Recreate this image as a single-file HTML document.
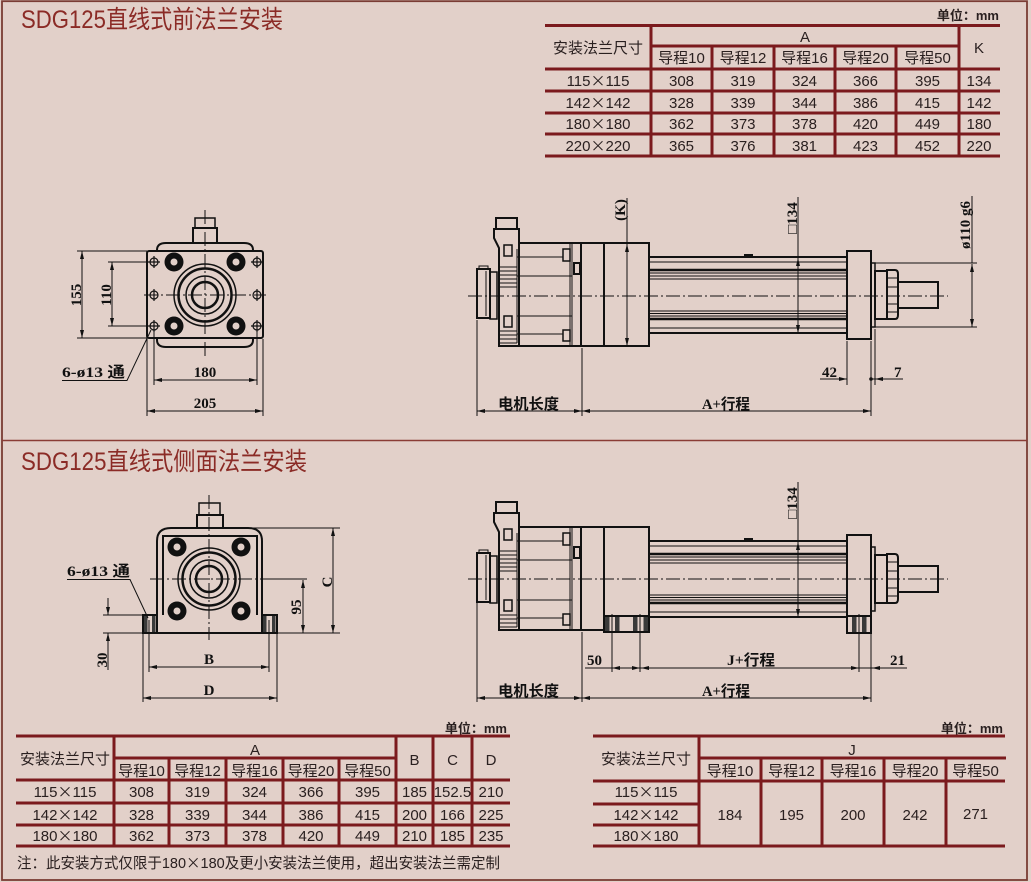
<!DOCTYPE html>
<html><head><meta charset="utf-8">
<style>
html,body{margin:0;padding:0;background:#e2d0c9;}
svg{display:block;}
.t{font-family:"Liberation Sans","Noto Sans CJK SC",sans-serif;fill:#2a2020;font-size:15px;text-anchor:middle;}
.x{font-family:"Noto Sans CJK SC",sans-serif;}
.u{font-family:"Liberation Sans","Noto Sans CJK SC",sans-serif;fill:#2a2020;font-size:13px;font-weight:bold;text-anchor:end;}
.d{font-family:"Liberation Serif","Noto Sans CJK SC",serif;font-weight:bold;fill:#111;font-size:15px;}
.ttl{font-family:"Liberation Sans","Noto Sans CJK SC",sans-serif;fill:#8b2b26;font-size:25px;}
</style></head><body>
<svg width="1031" height="882" viewBox="0 0 1031 882" xmlns="http://www.w3.org/2000/svg">
<defs>
<marker id="a" viewBox="0 0 8 4" refX="8" refY="2" markerWidth="8" markerHeight="4" markerUnits="userSpaceOnUse" orient="auto-start-reverse"><path d="M0,0 L8,2 L0,4 z" fill="#111"/></marker>
</defs>
<rect width="1031" height="882" fill="#e2d0c9"/>
<rect x="2" y="1.2" width="1025" height="878.8" fill="none" stroke="#7a3c34" stroke-width="1.8"/>
<line x1="2" y1="440.5" x2="1027" y2="440.5" stroke="#8a3c35" stroke-width="1.5"/>

<text class="ttl" x="21" y="28" textLength="262" lengthAdjust="spacingAndGlyphs">SDG125直线式前法兰安装</text>
<text class="ttl" x="21" y="470" textLength="286" lengthAdjust="spacingAndGlyphs">SDG125直线式侧面法兰安装</text>

<!-- ===== TOP TABLE ===== -->
<g stroke="#7b1a1d" stroke-width="3">
<line x1="545" y1="25.5" x2="1000" y2="25.5"/>
<line x1="651" y1="46" x2="959" y2="46"/>
<line x1="545" y1="69" x2="1000" y2="69"/>
<line x1="545" y1="91" x2="1000" y2="91"/>
<line x1="545" y1="113" x2="1000" y2="113"/>
<line x1="545" y1="134" x2="1000" y2="134"/>
<line x1="545" y1="156" x2="1000" y2="156"/>
<line x1="651" y1="25" x2="651" y2="156"/>
<line x1="712" y1="46" x2="712" y2="156"/>
<line x1="774" y1="46" x2="774" y2="156"/>
<line x1="835" y1="46" x2="835" y2="156"/>
<line x1="896" y1="46" x2="896" y2="156"/>
<line x1="959" y1="25" x2="959" y2="156"/>
</g>
<text class="u" x="999" y="20">单位：mm</text>
<text class="t" x="598" y="53">安装法兰尺寸</text>
<text class="t" x="805" y="42" font-size="13">A</text>
<text class="t" x="979" y="53" font-size="14">K</text>
<g class="t">
<text x="681.5" y="63">导程10</text><text x="743" y="63">导程12</text><text x="804.5" y="63">导程16</text><text x="865.5" y="63">导程20</text><text x="927.5" y="63">导程50</text>
<text x="598" y="86">115<tspan class="x">×</tspan>115</text><text x="681.5" y="86">308</text><text x="743" y="86">319</text><text x="804.5" y="86">324</text><text x="865.5" y="86">366</text><text x="927.5" y="86">395</text><text x="979" y="86">134</text>
<text x="598" y="108">142<tspan class="x">×</tspan>142</text><text x="681.5" y="108">328</text><text x="743" y="108">339</text><text x="804.5" y="108">344</text><text x="865.5" y="108">386</text><text x="927.5" y="108">415</text><text x="979" y="108">142</text>
<text x="598" y="129">180<tspan class="x">×</tspan>180</text><text x="681.5" y="129">362</text><text x="743" y="129">373</text><text x="804.5" y="129">378</text><text x="865.5" y="129">420</text><text x="927.5" y="129">449</text><text x="979" y="129">180</text>
<text x="598" y="151">220<tspan class="x">×</tspan>220</text><text x="681.5" y="151">365</text><text x="743" y="151">376</text><text x="804.5" y="151">381</text><text x="865.5" y="151">423</text><text x="927.5" y="151">452</text><text x="979" y="151">220</text>
</g>

<!-- ===== BOTTOM LEFT TABLE ===== -->
<g stroke="#7b1a1d" stroke-width="3">
<line x1="16" y1="736" x2="510" y2="736"/>
<line x1="114" y1="758" x2="396" y2="758"/>
<line x1="16" y1="780" x2="510" y2="780"/>
<line x1="16" y1="803" x2="510" y2="803"/>
<line x1="16" y1="825" x2="510" y2="825"/>
<line x1="16" y1="846" x2="510" y2="846"/>
<line x1="114" y1="736" x2="114" y2="846"/>
<line x1="169" y1="758" x2="169" y2="846"/>
<line x1="226" y1="758" x2="226" y2="846"/>
<line x1="283" y1="758" x2="283" y2="846"/>
<line x1="339" y1="758" x2="339" y2="846"/>
<line x1="396" y1="736" x2="396" y2="846"/>
<line x1="433" y1="736" x2="433" y2="846"/>
<line x1="472" y1="736" x2="472" y2="846"/>
</g>
<text class="u" x="507" y="733">单位：mm</text>
<text class="t" x="65" y="764">安装法兰尺寸</text>
<text class="t" x="255" y="755" font-size="13">A</text>
<g class="t" font-size="14"><text x="414.5" y="765">B</text><text x="452.5" y="765">C</text><text x="491" y="765">D</text></g>
<g class="t">
<text x="141.5" y="776">导程10</text><text x="197.5" y="776">导程12</text><text x="254.5" y="776">导程16</text><text x="311" y="776">导程20</text><text x="367.5" y="776">导程50</text>
<text x="65" y="797">115<tspan class="x">×</tspan>115</text><text x="141.5" y="797">308</text><text x="197.5" y="797">319</text><text x="254.5" y="797">324</text><text x="311" y="797">366</text><text x="367.5" y="797">395</text><text x="414.5" y="797">185</text><text x="452.5" y="797">152.5</text><text x="491" y="797">210</text>
<text x="65" y="820">142<tspan class="x">×</tspan>142</text><text x="141.5" y="820">328</text><text x="197.5" y="820">339</text><text x="254.5" y="820">344</text><text x="311" y="820">386</text><text x="367.5" y="820">415</text><text x="414.5" y="820">200</text><text x="452.5" y="820">166</text><text x="491" y="820">225</text>
<text x="65" y="841">180<tspan class="x">×</tspan>180</text><text x="141.5" y="841">362</text><text x="197.5" y="841">373</text><text x="254.5" y="841">378</text><text x="311" y="841">420</text><text x="367.5" y="841">449</text><text x="414.5" y="841">210</text><text x="452.5" y="841">185</text><text x="491" y="841">235</text>
</g>
<text class="t" x="17" y="868" style="text-anchor:start" textLength="483" lengthAdjust="spacingAndGlyphs">注：此安装方式仅限于180<tspan class="x">×</tspan>180及更小安装法兰使用，超出安装法兰需定制</text>

<!-- ===== BOTTOM RIGHT TABLE ===== -->
<g stroke="#7b1a1d" stroke-width="3">
<line x1="593" y1="736" x2="1005" y2="736"/>
<line x1="699" y1="758" x2="1006" y2="758"/>
<line x1="593" y1="781" x2="1005" y2="781"/>
<line x1="593" y1="804" x2="699" y2="804"/>
<line x1="593" y1="825" x2="699" y2="825"/>
<line x1="593" y1="846" x2="1005" y2="846"/>
<line x1="699" y1="736" x2="699" y2="846"/>
<line x1="761" y1="758" x2="761" y2="846"/>
<line x1="822" y1="758" x2="822" y2="846"/>
<line x1="884" y1="758" x2="884" y2="846"/>
<line x1="946" y1="758" x2="946" y2="846"/>
</g>
<text class="u" x="1003" y="733">单位：mm</text>
<text class="t" x="646" y="764">安装法兰尺寸</text>
<text class="t" x="852" y="755" font-size="13">J</text>
<g class="t">
<text x="730" y="776">导程10</text><text x="791.5" y="776">导程12</text><text x="853" y="776">导程16</text><text x="915" y="776">导程20</text><text x="975.5" y="776">导程50</text>
<text x="646" y="797">115<tspan class="x">×</tspan>115</text><text x="646" y="820">142<tspan class="x">×</tspan>142</text><text x="646" y="841">180<tspan class="x">×</tspan>180</text>
<text x="730" y="820">184</text><text x="791.5" y="820">195</text><text x="853" y="820">200</text><text x="915" y="820">242</text><text x="975.5" y="819">271</text>
</g>

<!-- ===== DRAWING 1: front flange end view ===== -->
<g fill="none" stroke="#111" stroke-width="1">
<line x1="205" y1="210" x2="205" y2="356" stroke-dasharray="14,3,2,3"/>
<line x1="144" y1="295" x2="266" y2="295" stroke-dasharray="14,3,2,3"/>
<path d="M157,251 V250 Q157,243 166,243 H244 Q253,243 253,250 V251" stroke-width="2"/>
<path d="M157,338 V340 Q157,347 166,347 H244 Q253,347 253,340 V338" stroke-width="2"/>
<rect x="147" y="251" width="116" height="87" rx="2" stroke-width="2"/>
<rect x="193" y="228" width="24" height="15" stroke-width="2"/>
<rect x="195" y="218" width="20" height="10" stroke-width="1.5"/>
<circle cx="205" cy="295" r="31" stroke-width="1.5"/>
<circle cx="205" cy="295" r="26.5" stroke-width="2.5"/>
<circle cx="205" cy="295" r="19" stroke-width="1.5"/>
<circle cx="205" cy="295" r="13" stroke-width="2.5"/>
<g fill="#111" stroke="none">
<circle cx="174" cy="262" r="9.5"/><circle cx="236" cy="262" r="9.5"/><circle cx="174" cy="326" r="9.5"/><circle cx="236" cy="326" r="9.5"/>
</g>
<g fill="#e2d0c9" stroke="#111" stroke-width="1">
<circle cx="174" cy="262" r="4"/><circle cx="236" cy="262" r="4"/><circle cx="174" cy="326" r="4"/><circle cx="236" cy="326" r="4"/>
</g>
<g stroke-width="1.2">
<circle cx="154" cy="262" r="4"/><circle cx="154" cy="295" r="4"/><circle cx="154" cy="326" r="4"/>
<circle cx="257" cy="262" r="4"/><circle cx="257" cy="295" r="4"/><circle cx="257" cy="326" r="4"/>
<path d="M148,262 h12 M154,256 v12 M148,326 h12 M154,320 v12 M154,289 v12 M251,262 h12 M257,256 v12 M251,326 h12 M257,320 v12 M257,289 v12"/>
</g>
<path d="M77,251 H147 M77,338 H147 M108,262 H150 M108,326 H150"/>
<line x1="82" y1="251" x2="82" y2="338" marker-start="url(#a)" marker-end="url(#a)"/>
<line x1="112" y1="262" x2="112" y2="326" marker-start="url(#a)" marker-end="url(#a)"/>
<path d="M154,331 V385 M257,331 V385 M147,339 V416 M263,339 V416"/>
<line x1="154" y1="380" x2="257" y2="380" marker-start="url(#a)" marker-end="url(#a)"/>
<line x1="147" y1="411" x2="263" y2="411" marker-start="url(#a)" marker-end="url(#a)"/>
<path d="M62,380.5 H127 L151,330"/>
</g>
<text class="d" transform="translate(81,295) rotate(-90)" text-anchor="middle">155</text>
<text class="d" transform="translate(111,295) rotate(-90)" text-anchor="middle">110</text>
<text class="d" x="205" y="377" text-anchor="middle">180</text>
<text class="d" x="205" y="408" text-anchor="middle">205</text>
<text class="d" x="62" y="377" textLength="63" lengthAdjust="spacingAndGlyphs">6-ø13 通</text>

<!-- ===== DRAWING 2: side view (reused for drawing 4) ===== -->
<g id="sv" fill="none" stroke="#111" stroke-width="1">
<rect x="477" y="269" width="13" height="49" stroke-width="2"/>
<rect x="479" y="266" width="9" height="3"/>
<line x1="486" y1="271" x2="486" y2="316"/>
<rect x="490" y="272" width="7" height="47" stroke-width="1.5"/>
<path d="M494,229 H519 V346 H499 V248 L494,238 Z" stroke-width="2"/>
<rect x="496" y="218" width="21" height="11" stroke-width="2"/>
<path d="M499,267 H517 M499,271 H517 M499,275 H517 M499,279 H517 M499,283 H517 M499,287 H517 M499,331 H517 M499,335 H517 M499,339 H517 M499,343 H517"/>
<rect x="519" y="243" width="130" height="103" stroke-width="2"/>
<line x1="570" y1="243" x2="570" y2="346"/>
<line x1="572" y1="243" x2="572" y2="346"/>
<line x1="581" y1="243" x2="581" y2="346" stroke-width="2"/>
<line x1="604" y1="243" x2="604" y2="346" stroke-width="2"/>
<path d="M517,257 H563 M517,276 H572 M517,316 H572 M517,334 H563 M517,249 V343"/>
<rect x="504" y="245" width="8" height="11" stroke-width="1.5"/>
<rect x="504" y="316" width="8" height="11" stroke-width="1.5"/>
<rect x="563" y="249" width="7" height="12" stroke-width="1.5"/>
<rect x="563" y="330" width="7" height="11" stroke-width="1.5"/>
<rect x="574" y="263" width="6" height="11" stroke-width="2"/>
<line x1="649" y1="257" x2="847" y2="257" stroke-width="2"/>
<line x1="649" y1="262" x2="847" y2="262"/>
<line x1="649" y1="270" x2="847" y2="270" stroke-width="2.5"/>
<line x1="649" y1="273" x2="847" y2="273"/>
<line x1="649" y1="276" x2="847" y2="276"/>
<line x1="649" y1="279" x2="847" y2="279"/>
<line x1="649" y1="311" x2="847" y2="311"/>
<line x1="649" y1="313.5" x2="847" y2="313.5"/>
<line x1="649" y1="316" x2="847" y2="316"/>
<line x1="649" y1="319" x2="847" y2="319" stroke-width="2.5"/>
<line x1="649" y1="328" x2="847" y2="328"/>
<line x1="649" y1="333" x2="847" y2="333" stroke-width="2"/>
<rect x="744" y="254" width="9" height="3" fill="#111" stroke="none"/>
<rect x="847" y="251" width="24" height="88" stroke-width="2"/>
<rect x="871" y="263" width="4" height="64" stroke-width="1.5"/>
<rect x="875" y="271" width="12" height="48" stroke-width="2"/>
<path d="M887,270 H895 Q898,270 898,274 V315 Q898,319 895,319 H887 Z" stroke-width="2"/>
<path d="M887,278 H898 M887,287 H898 M887,304 H898 M887,312 H898"/>
<rect x="898" y="282" width="40" height="26" stroke-width="2"/>
</g>
<line x1="468" y1="296" x2="948" y2="296" stroke="#111" stroke-width="1" stroke-dasharray="14,3,2,3"/>
<g fill="none" stroke="#111" stroke-width="1">
<line x1="627" y1="198" x2="627" y2="243"/>
<line x1="627" y1="244" x2="627" y2="346" marker-start="url(#a)" marker-end="url(#a)"/>
<line x1="798" y1="197" x2="798" y2="257"/>
<line x1="798" y1="258" x2="798" y2="333" marker-start="url(#a)" marker-end="url(#a)"/>
<path d="M875,263 H977 M875,327 H977 M972,196 V263"/>
<line x1="972" y1="264" x2="972" y2="327" marker-start="url(#a)" marker-end="url(#a)"/>
<path d="M847,341 V385 M871,341 V416 M875,329 V385"/>
<line x1="820" y1="379" x2="847" y2="379" marker-end="url(#a)"/>
<line x1="871" y1="379" x2="903" y2="379"/>
<line x1="885" y1="379" x2="875" y2="379" marker-end="url(#a)"/>
<circle cx="871" cy="379" r="1.3" fill="#111"/>
<path d="M477,320 V416 M582,348 V416"/>
<line x1="477" y1="411" x2="582" y2="411" marker-start="url(#a)" marker-end="url(#a)"/>
<line x1="582" y1="411" x2="871" y2="411" marker-start="url(#a)" marker-end="url(#a)"/>
</g>
<text class="d" transform="translate(625,210) rotate(-90)" text-anchor="middle">(K)</text>
<text class="d" transform="translate(797,218) rotate(-90)" text-anchor="middle">□134</text>
<text class="d" transform="translate(970,225) rotate(-90)" text-anchor="middle">ø110 g6</text>
<text class="d" x="822" y="377">42</text>
<text class="d" x="894" y="377">7</text>
<text class="d" x="498" y="409" textLength="61" lengthAdjust="spacingAndGlyphs">电机长度</text>
<text class="d" x="702" y="409" textLength="48" lengthAdjust="spacingAndGlyphs">A+行程</text>

<!-- ===== DRAWING 3: side flange end view ===== -->
<g fill="none" stroke="#111" stroke-width="1">
<line x1="209" y1="495" x2="209" y2="640" stroke-dasharray="14,3,2,3"/>
<line x1="150" y1="579" x2="304" y2="579" stroke-dasharray="14,3,2,3"/>
<path d="M157,615 V541 Q157,528 171,528 H248 Q262,528 262,541 V615" stroke-width="2"/>
<path d="M157,615 V607 M163,615 V536 H257 V615" stroke-width="2"/>
<rect x="143" y="615" width="14" height="18" stroke-width="2"/>
<rect x="262" y="615" width="15" height="18" stroke-width="2"/>
<line x1="143" y1="633" x2="277" y2="633" stroke-width="2"/>
<rect x="197" y="515" width="26" height="13" stroke-width="2"/>
<rect x="199" y="503" width="21" height="12" stroke-width="1.5"/>
<circle cx="209" cy="579" r="31" stroke-width="1.5"/>
<circle cx="209" cy="579" r="26.5" stroke-width="2.5"/>
<circle cx="209" cy="579" r="19" stroke-width="1.5"/>
<circle cx="209" cy="579" r="13" stroke-width="2.5"/>
<g fill="#111" stroke="none">
<circle cx="177" cy="547" r="9.5"/><circle cx="241" cy="547" r="9.5"/><circle cx="177" cy="611" r="9.5"/><circle cx="241" cy="611" r="9.5"/>
<rect x="144" y="616" width="3.5" height="16" fill="#3a3a3a"/><rect x="152" y="616" width="3.5" height="16" fill="#3a3a3a"/>
<rect x="263" y="616" width="3.5" height="16" fill="#3a3a3a"/><rect x="272" y="616" width="3.5" height="16" fill="#3a3a3a"/>
</g>
<g fill="#e2d0c9">
<circle cx="177" cy="547" r="4"/><circle cx="241" cy="547" r="4"/><circle cx="177" cy="611" r="4"/><circle cx="241" cy="611" r="4"/>
</g>
<path d="M248,528 H340 M277,633 H340 M262,579 H307"/>
<line x1="333" y1="528" x2="333" y2="633" marker-start="url(#a)" marker-end="url(#a)"/>
<line x1="303" y1="580" x2="303" y2="633" marker-start="url(#a)" marker-end="url(#a)"/>
<path d="M103,615 H143 M103,633 H143"/>
<line x1="108" y1="598" x2="108" y2="615" marker-end="url(#a)"/>
<line x1="108" y1="670" x2="108" y2="633" marker-end="url(#a)"/>
<path d="M149,620 V672 M269,620 V672 M143,634 V702 M277,634 V702"/>
<line x1="149" y1="667" x2="269" y2="667" marker-start="url(#a)" marker-end="url(#a)"/>
<line x1="143" y1="698" x2="277" y2="698" marker-start="url(#a)" marker-end="url(#a)"/>
<path d="M67,579.5 H130 L148,618"/>
</g>
<text class="d" transform="translate(332,582) rotate(-90)" text-anchor="middle">C</text>
<text class="d" transform="translate(301,607) rotate(-90)" text-anchor="middle">95</text>
<text class="d" transform="translate(107,660) rotate(-90)" text-anchor="middle">30</text>
<text class="d" x="209" y="664" text-anchor="middle">B</text>
<text class="d" x="209" y="695" text-anchor="middle">D</text>
<text class="d" x="67" y="576" textLength="63" lengthAdjust="spacingAndGlyphs">6-ø13 通</text>

<!-- ===== DRAWING 4: side view with side flange ===== -->
<use href="#sv" x="0" y="284"/>
<line x1="468" y1="579" x2="948" y2="579" stroke="#111" stroke-width="1" stroke-dasharray="14,3,2,3"/>
<g fill="none" stroke="#111" stroke-width="1">
<rect x="604" y="616" width="45" height="16" fill="#e2d0c9" stroke-width="2"/>
<rect x="847" y="616" width="24" height="17" fill="#e2d0c9" stroke-width="2"/>
<g fill="#3a3a3a" stroke="none">
<rect x="605" y="617" width="4.5" height="14"/><rect x="615" y="617" width="4.5" height="14"/><rect x="633" y="617" width="4.5" height="14"/><rect x="643.5" y="617" width="4.5" height="14"/>
<rect x="852" y="617" width="4.5" height="15"/><rect x="862" y="617" width="4.5" height="15"/>
</g>
<line x1="798" y1="482" x2="798" y2="541"/>
<line x1="798" y1="542" x2="798" y2="617" marker-start="url(#a)" marker-end="url(#a)"/>
<path d="M612,614 V672 M640,614 V672 M859,614 V672 M871,634 V702"/>
<line x1="585" y1="668" x2="907" y2="668"/>
<line x1="622" y1="668" x2="612" y2="668" marker-end="url(#a)"/>
<line x1="630" y1="668" x2="640" y2="668" marker-end="url(#a)"/>
<line x1="650" y1="668" x2="641" y2="668" marker-end="url(#a)"/>
<line x1="849" y1="668" x2="859" y2="668" marker-end="url(#a)"/>
<line x1="881" y1="668" x2="872" y2="668" marker-end="url(#a)"/>
<path d="M477,601 V702 M582,632 V702"/>
<line x1="477" y1="698" x2="582" y2="698" marker-start="url(#a)" marker-end="url(#a)"/>
<line x1="582" y1="698" x2="871" y2="698" marker-start="url(#a)" marker-end="url(#a)"/>
</g>
<text class="d" transform="translate(797,503) rotate(-90)" text-anchor="middle">□134</text>
<text class="d" x="587" y="665">50</text>
<text class="d" x="727" y="665" textLength="48" lengthAdjust="spacingAndGlyphs">J+行程</text>
<text class="d" x="890" y="665">21</text>
<text class="d" x="498" y="696" textLength="61" lengthAdjust="spacingAndGlyphs">电机长度</text>
<text class="d" x="702" y="696" textLength="48" lengthAdjust="spacingAndGlyphs">A+行程</text>
</svg>
</body></html>
